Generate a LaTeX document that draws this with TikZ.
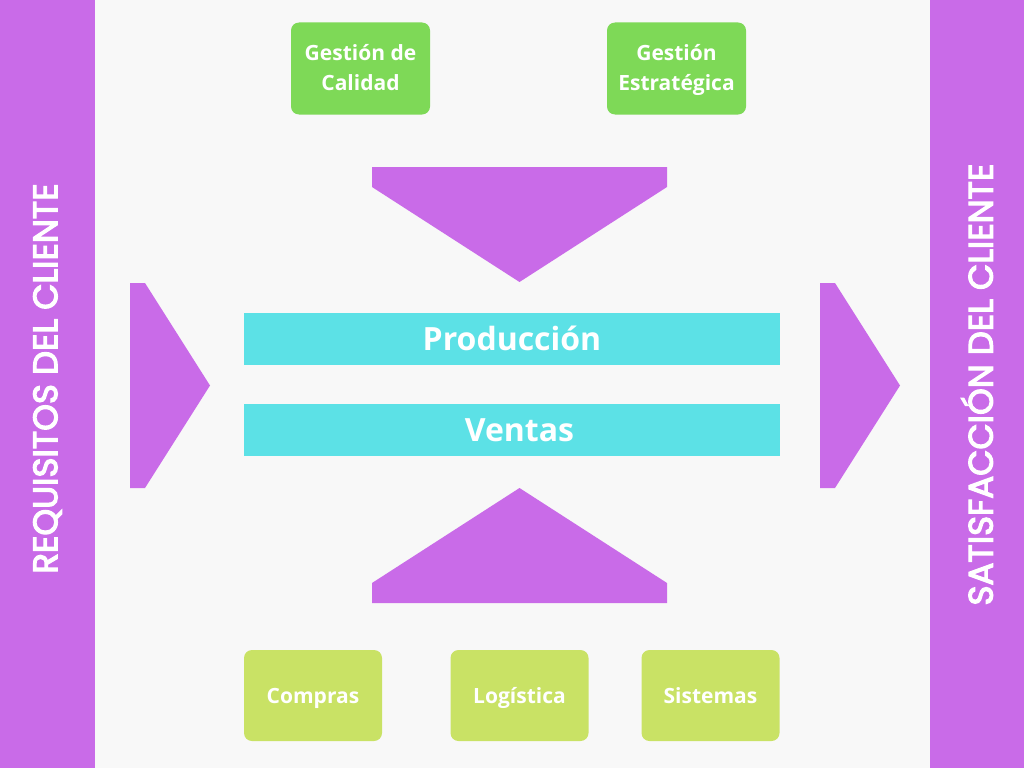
\documentclass[tikz,border=0pt]{standalone}
\usepackage{fontspec}
\setmainfont{Open Sans}
\newfontfamily\sidefont[FakeBold=3.5]{Poppins}
\definecolor{bgc}{HTML}{F8F8F8}
\definecolor{purp}{HTML}{C96BE8}
\definecolor{grn}{HTML}{7ED957}
\definecolor{lime}{HTML}{C9E265}
\definecolor{cyn}{HTML}{5CE1E6}
\newcommand{\ls}{\rule[-8.5pt]{0pt}{30pt}}
\tikzset{
  topbox/.style={fill=grn, rounded corners=8pt, minimum width=139pt, minimum height=92pt, inner sep=0pt, text=white, font=\fontsize{21}{30}\selectfont\bfseries, align=center},
  botbox/.style={fill=lime, rounded corners=8pt, minimum width=138pt, minimum height=91pt, inner sep=0pt, text=white, font=\fontsize{21}{30}\selectfont\bfseries, text height=15pt, text depth=0pt},
  bar/.style={fill=cyn, minimum width=536pt, minimum height=52pt, inner sep=0pt},
  bartext/.style={text=white, font=\fontsize{32}{36}\selectfont\bfseries, inner sep=0pt, text height=23pt, text depth=0pt},
  sidetext/.style={text=white, rotate=90, font=\fontsize{34}{36}\sidefont, inner sep=0pt},
  purpshape/.style={fill=purp}
}
\begin{document}
\begin{tikzpicture}[x=1pt,y=-1pt]
\fill[bgc] (0,0) rectangle (1024,768);
\useasboundingbox (0,0) rectangle (1024,768);
% side bars
\fill[purp] (0,0) rectangle (95,768);
\fill[purp] (930,0) rectangle (1024,768);
\node[sidetext] (req) at (47.5,378.5) {REQUISITOS DEL CLIENTE};
\node[sidetext] (sat) at (977,384.5) {SATISFACCIÓN DEL CLIENTE};
% arrows
\fill[purpshape] (130,283) -- (145,283) -- (210,385.5) -- (145,488) -- (130,488) -- cycle;
\fill[purpshape] (820,283) -- (835,283) -- (900,385.5) -- (835,488) -- (820,488) -- cycle;
\fill[purpshape] (372,167) -- (667,167) -- (667,187) -- (519.5,282) -- (372,187) -- cycle;
\fill[purpshape] (372,603) -- (667,603) -- (667,583) -- (519.5,488) -- (372,583) -- cycle;
% top boxes
\node[topbox] (cal) at (360.5,68.5) {\ls Gestión de\\\ls Calidad};
\node[topbox] (est) at (676.5,68.5) {\ls Gestión\\\ls Estratégica};
% bars
\node[bar] (prod) at (512,339) {};
\node[bar] (vent) at (512,430) {};
\node[bartext] (prodt) at (512,339) {Producción};
\node[bartext] (ventt) at (519.5,430) {Ventas};
% bottom boxes
\node[botbox] (comp) at (313,695.5) {Compras};
\node[botbox] (log) at (519.5,695.5) {Logística};
\node[botbox] (sis) at (710.5,695.5) {Sistemas};
\end{tikzpicture}
\end{document}
